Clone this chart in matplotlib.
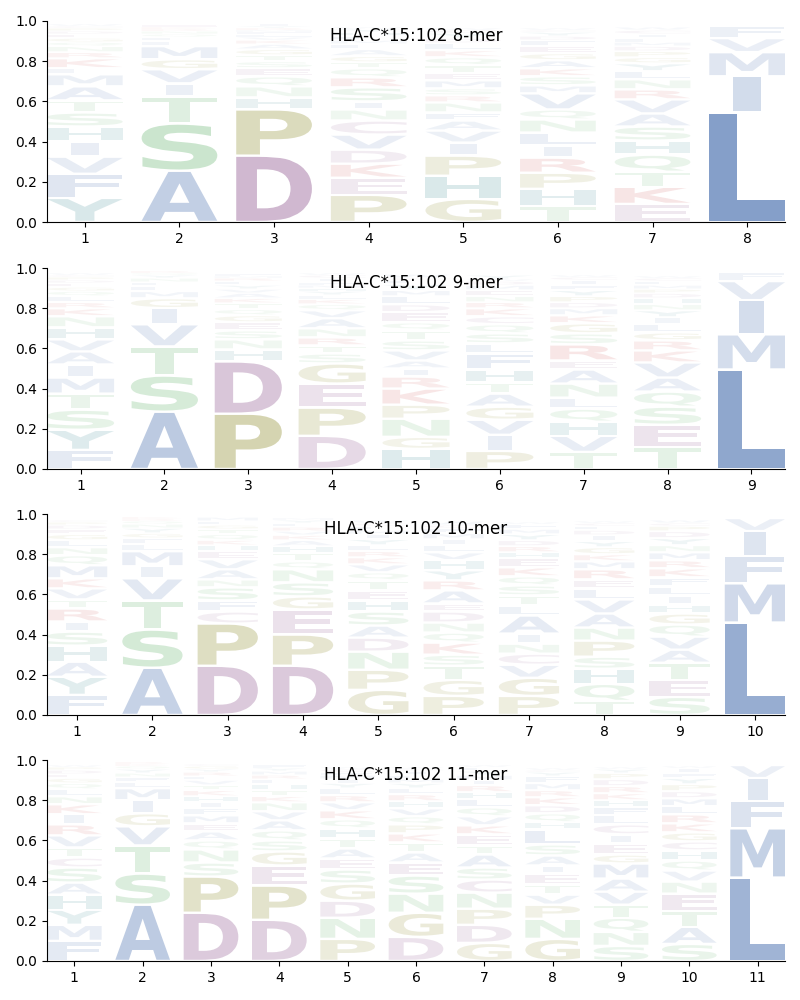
import matplotlib
matplotlib.use('Agg')
import matplotlib.pyplot as plt
from matplotlib.textpath import TextPath
from matplotlib.patches import PathPatch
from matplotlib.font_manager import FontProperties
from matplotlib.transforms import Affine2D

titles = ["HLA-C*15:102 8-mer", "HLA-C*15:102 9-mer",
          "HLA-C*15:102 10-mer", "HLA-C*15:102 11-mer"]

# letters listed bottom -> top for each position, with their heights
mer8_letters = ["YFVIHSTAMLKRNQGEDPCW", "ASTIVGMLFQNRKE", "DPHNQESTGAKVLFMRYI",
                "PEKDVCNISRQTGALMFHYW", "GHPIVAFNRSMETQKLDYCW", "THPRILNQVMSKAGEFDYCW",
                "EKTQHSAVRNLYGPDMFICW", "LIMVF"]
mer8_heights = [
    [.12, .12, .085, .075, .075, .07, .06, .07, .06, .03, .05, .03, .03, .02, .02, .02, .015, .015, .01, .01],
    [.255, .235, .135, .065, .07, .05, .065, .025, .02, .015, .015, .01, .01, .01],
    [.33, .23, .06, .055, .05, .04, .035, .03, .03, .025, .02, .015, .015, .01, .01, .01, .01, .01],
    [.135, .085, .07, .07, .075, .07, .055, .04, .07, .05, .045, .03, .03, .035, .025, .02, .02, .02, .015, .01],
    [.115, .115, .10, .065, .06, .05, .04, .05, .035, .035, .04, .035, .04, .04, .035, .035, .025, .025, .015, .01],
    [.08, .085, .08, .075, .06, .065, .065, .05, .08, .04, .045, .04, .04, .035, .035, .03, .02, .02, .01, .01],
    [.09, .085, .075, .085, .07, .07, .065, .07, .05, .05, .04, .04, .03, .03, .025, .02, .02, .02, .02, .015],
    [.545, .18, .12, .07, .06],
]

mer9_letters = ["FYSTMIAVHNKRLQGEDPCW", "ASTVIGMLFNYQR", "PDHNSEGQTKAVYLRMF",
                "DPEGSTRNAVQKLYHMFICW", "HGNPKRIAVSTQEDLMYFCW", "PIVGATHFLSQCKRNEMDWY",
                "TVHQLNAERSGKMDPYFICW", "TESQAVKRGLIYNHDPMFCW", "LMIVF"]
mer9_heights = [
    [.095, .10, .10, .08, .08, .065, .065, .06, .06, .055, .04, .03, .03, .025, .02, .02, .015, .015, .01, .01],
    [.285, .18, .145, .11, .08, .05, .035, .025, .02, .02, .015, .01, .01],
    [.275, .26, .06, .05, .045, .04, .035, .03, .03, .025, .025, .02, .02, .02, .015, .01, .01],
    [.165, .14, .12, .10, .05, .04, .04, .045, .05, .04, .03, .025, .02, .02, .015, .015, .015, .02, .015, .01],
    [.10, .06, .09, .07, .08, .06, .04, .04, .05, .05, .05, .04, .05, .04, .04, .03, .03, .02, .01, .02],
    [.09, .08, .075, .065, .065, .055, .065, .08, .05, .05, .045, .04, .04, .03, .03, .03, .025, .02, .01, .02],
    [.085, .08, .07, .065, .055, .07, .07, .045, .08, .055, .05, .04, .035, .03, .03, .03, .025, .025, .015, .01],
    [.11, .11, .09, .075, .07, .075, .06, .05, .04, .04, .035, .035, .03, .03, .025, .02, .02, .02, .015, .01],
    [.495, .175, .17, .095, .045],
]

mer10_letters = ["FYAHSIRTVKMQNLGEDPC", "ASTVIMLFGYNQRK", "DPCFSNAVEHKQTGLM",
                 "DPEGSNQTHAKVRLYM", "GPNDASHETQVKRLYIMFCW", "PGTSKQNDEARYHVLIMFCW",
                 "PGVCNIALTSQKEHRDYMFW", "TQHSPNAVLERMKGYIDFCW", "SETAVQGHILFKRMNYDPCW",
                 "LMFIV"]
mer10_heights = [
    [.10, .09, .075, .08, .07, .05, .065, .045, .055, .05, .065, .05, .04, .035, .03, .025, .02, .015, .01],
    [.235, .19, .145, .11, .06, .075, .035, .03, .025, .025, .02, .015, .01, .01],
    [.245, .21, .06, .055, .065, .04, .05, .05, .04, .03, .025, .03, .025, .02, .02, .02],
    [.245, .155, .125, .065, .07, .065, .04, .04, .035, .03, .025, .02, .02, .02, .015, .01],
    [.125, .10, .09, .07, .06, .07, .055, .05, .05, .04, .04, .035, .03, .03, .03, .025, .02, .02, .015, .015],
    [.095, .08, .07, .055, .06, .05, .05, .055, .04, .065, .05, .05, .05, .04, .035, .03, .03, .025, .015, .02],
    [.095, .09, .065, .055, .05, .05, .09, .05, .05, .05, .045, .045, .045, .03, .03, .03, .03, .025, .025, .01],
    [.07, .085, .075, .06, .08, .065, .07, .07, .055, .045, .05, .04, .035, .035, .03, .03, .025, .02, .015, .01],
    [.09, .085, .085, .065, .065, .06, .055, .045, .045, .045, .045, .045, .04, .04, .035, .035, .035, .025, .015, .015],
    [.46, .195, .135, .125, .065],
]

mer11_letters = ["FMYHASCTVRIKNLQGEDPW", "ASTVGIMLFNYQKR", "DPSNQAEMFIHKTVLRYGC",
                 "DPEGSQAVNKTHLRMYF", "PNDGSEATHQKVRLYIMFCW", "DGNSEATKPQVHRLYMFICW",
                 "GDPNCSATEKVQLHRIMYFW", "GNPVTEIASLHQDKRMFYCW", "SNQTVAMGEICLFHKRDPYW",
                 "SATENVQHCGKRLMDPYFIW", "LMFIV"]
mer11_heights = [
    [.10, .08, .075, .075, .06, .075, .05, .05, .06, .055, .05, .05, .04, .035, .03, .025, .02, .02, .015, .01],
    [.28, .155, .14, .095, .065, .065, .06, .03, .025, .02, .02, .015, .01, .01],
    [.24, .18, .07, .065, .045, .045, .04, .04, .035, .03, .03, .03, .025, .025, .02, .02, .015, .015, .01],
    [.205, .17, .10, .07, .055, .05, .05, .045, .045, .03, .03, .03, .025, .02, .02, .015, .015],
    [.11, .105, .085, .085, .07, .055, .05, .05, .05, .045, .045, .04, .035, .035, .025, .02, .02, .015, .015, .01],
    [.12, .12, .095, .09, .065, .05, .05, .045, .045, .04, .04, .035, .035, .03, .025, .02, .02, .02, .01, .01],
    [.09, .09, .08, .08, .065, .06, .065, .045, .055, .045, .045, .045, .04, .035, .035, .025, .025, .02, .02, .01],
    [.11, .10, .07, .05, .05, .055, .04, .05, .055, .075, .035, .045, .04, .04, .035, .035, .035, .02, .01, .01],
    [.075, .07, .07, .065, .065, .065, .075, .045, .055, .045, .05, .045, .04, .035, .035, .035, .035, .03, .02, .01],
    [.085, .085, .08, .085, .06, .055, .05, .05, .045, .045, .045, .045, .04, .04, .035, .035, .03, .025, .025, .01],
    [.415, .245, .135, .115, .065],
]

panel_letters = [mer8_letters, mer9_letters, mer10_letters, mer11_letters]
panel_heights = [mer8_heights, mer9_heights, mer10_heights, mer11_heights]

def rgb(r, g, b):
    return (r / 255, g / 255, b / 255)

blue = rgb(76, 114, 176)
teal = rgb(40, 125, 135)
green = rgb(90, 175, 100)
purple = rgb(145, 90, 145)
olive = rgb(140, 138, 40)
red = rgb(200, 60, 60)
COLORS = {}
for c in "AVLIMFW":
    COLORS[c] = blue
for c in "YH":
    COLORS[c] = teal
for c in "STNQ":
    COLORS[c] = green
for c in "DEC":
    COLORS[c] = purple
for c in "PG":
    COLORS[c] = olive
for c in "KR":
    COLORS[c] = red

fp = FontProperties(family='DejaVu Sans', weight='bold')
_cache = {}


def glyph(ch):
    if ch not in _cache:
        tp = TextPath((0, 0), ch, size=1, prop=fp)
        _cache[ch] = (tp, tp.get_extents())
    return _cache[ch]


E_WIDTH = glyph('E')[1].width


def draw_letter(ax, ch, x, y0, h, width=0.8, pad=0.006):
    tp, bb = glyph(ch)
    p = min(pad, 0.15 * h)
    gh = h - 2 * p
    # do not stretch narrow glyphs (like I) more than an E would be stretched
    sx = min(width / bb.width, width / E_WIDTH)
    w = bb.width * sx
    t = (Affine2D().translate(-bb.x0, -bb.y0)
         .scale(sx, gh / bb.height)
         .translate(x - w / 2, y0 + p))
    alpha = min(1.0, 0.03 + 1.2 * h)
    ax.add_patch(PathPatch(t.transform_path(tp), facecolor=COLORS[ch],
                           edgecolor='none', lw=0, alpha=alpha))


fig = plt.figure(figsize=(8, 10), dpi=100)
tops = [21, 268, 514, 760]
for i in range(4):
    top = tops[i]
    ax = fig.add_axes([47 / 800, 1 - (top + 201) / 1000, 738 / 800, 201 / 1000])
    letters = panel_letters[i]
    heights = panel_heights[i]
    n = len(letters)
    for pos in range(n):
        y = 0.0
        for ch, h in zip(letters[pos], heights[pos]):
            draw_letter(ax, ch, pos + 1, y, h)
            y += h
    ax.set_xlim(0.6, n + 0.4)
    ax.set_ylim(0, 1)
    ax.set_xticks(range(1, n + 1))
    ax.set_yticks([0, 0.2, 0.4, 0.6, 0.8, 1.0])
    ax.spines['top'].set_visible(False)
    ax.spines['right'].set_visible(False)
    ax.text(0.5, 0.925, titles[i], transform=ax.transAxes, ha='center',
            va='center', fontsize=12, zorder=10)

fig.savefig('out.png', dpi=100)
